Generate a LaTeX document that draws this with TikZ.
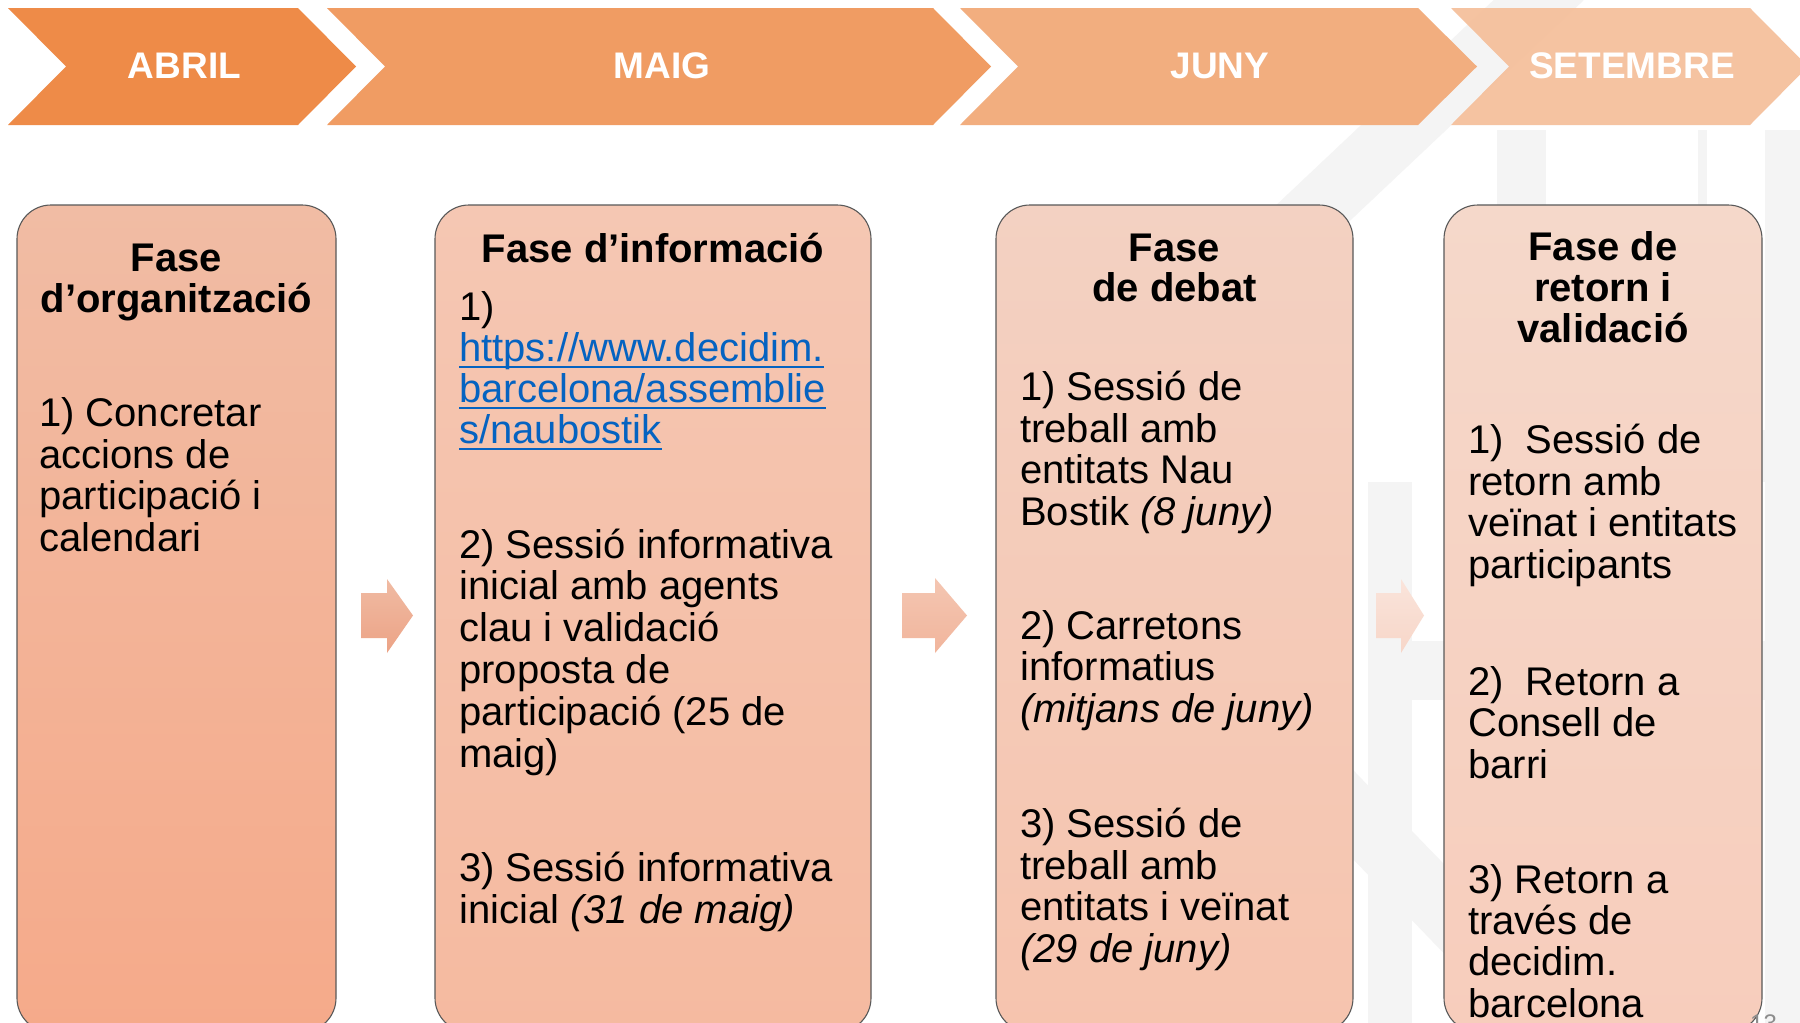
\documentclass[tikz,border=0pt]{standalone}
\usepackage{fontspec}
\setmainfont{Liberation Sans}
\definecolor{cAbril}{RGB}{238,139,72}
\definecolor{cMaig}{RGB}{240,156,99}
\definecolor{cJuny}{RGB}{242,174,127}
\definecolor{cSet}{RGB}{245,190,153}
\definecolor{bOneT}{RGB}{241,188,164}
\definecolor{bOneB}{RGB}{245,170,138}
\definecolor{bTwoT}{RGB}{245,199,179}
\definecolor{bTwoB}{RGB}{245,186,160}
\definecolor{bThrT}{RGB}{243,209,194}
\definecolor{bThrB}{RGB}{246,196,174}
\definecolor{bFouT}{RGB}{245,216,202}
\definecolor{bFouB}{RGB}{247,205,188}
\definecolor{wmgray}{RGB}{244,244,244}
\definecolor{urlblue}{RGB}{5,99,193}
\newcommand\urlline[1]{\setbox0\hbox{#1}\rlap{\rule[-7pt]{\wd0}{2.5pt}}\box0}
\tikzset{
  month/.style={text=white, anchor=base, inner sep=0, font=\bfseries\fontsize{37}{40}\selectfont},
  pbox/.style={draw=black!65, line width=1.1pt, rounded corners=34pt, inner sep=0, outer sep=0},
  ptitle/.style={anchor=base, inner sep=0, align=center, font=\bfseries\fontsize{40}{41}\selectfont},
  pbody/.style={anchor=base west, inner sep=0, align=left, font=\fontsize{40}{41.5}\selectfont},
  wmband/.style={draw=wmgray, line width=62pt, line cap=round, line join=round},
}
\begin{document}
\begin{tikzpicture}[x=1pt,y=-1pt]
\useasboundingbox (0,0) rectangle (1800,1023);
\fill[white] (0,0) rectangle (1800,1023);
% faint watermark
\draw[wmband] (1590,1060) -- (1030,480) -- (1560,-20);
\fill[wmgray] (1497,130) rectangle (1546,470);
\fill[wmgray] (1368,482) rectangle (1412,1023);
\fill[wmgray] (1497,430) rectangle (1800,482);
\fill[wmgray] (1368,641) rectangle (1800,700);
\fill[wmgray] (1698,130) rectangle (1707,430);
\fill[wmgray] (1765,130) rectangle (1800,1023);
% month chevrons
\fill[cAbril] (8,8) -- (298,8) -- (356,66.5) -- (298,125) -- (8,125) -- (66,66.5) -- cycle;
\fill[cMaig] (327,8) -- (933,8) -- (991,66.5) -- (933,125) -- (327,125) -- (385,66.5) -- cycle;
\fill[cJuny] (960,8) -- (1418,8) -- (1477,66.5) -- (1418,125) -- (960,125) -- (1018,66.5) -- cycle;
\fill[cSet, fill opacity=0.92] (1451,8) -- (1750,8) -- (1808,66.5) -- (1750,125) -- (1451,125) -- (1509,66.5) -- cycle;
\node[month] (mAbril) at (184.5,78) {ABRIL};
\node[month] (mMaig) at (662,78) {MAIG};
\node[month] (mJuny) at (1220,78) {JUNY};
\node[month] (mSet) at (1632,78) {SETEMBRE};
% phase boxes
\node[pbox, top color=bOneT, bottom color=bOneB, minimum width=319pt, minimum height=827pt] (box1) at (176.5,618.5) {};
\node[pbox, top color=bTwoT, bottom color=bTwoB, minimum width=436pt, minimum height=827pt] (box2) at (653,618.5) {};
\node[pbox, top color=bThrT, bottom color=bThrB, minimum width=357pt, minimum height=827pt] (box3) at (1174.5,618.5) {};
\node[pbox, top color=bFouT, bottom color=bFouB, minimum width=318pt, minimum height=827pt] (box4) at (1603,618.5) {};
% block arrows between boxes
\path[top color={rgb,255:red,240;green,187;blue,163}, bottom color={rgb,255:red,236;green,163;blue,134}]
  (361,593) -- (387,593) -- (387,579) -- (413,615.5) -- (387,653) -- (387,638) -- (361,638) -- cycle;
\path[top color={rgb,255:red,244;green,198;blue,178}, bottom color={rgb,255:red,241;green,181;blue,156}]
  (902,593) -- (935,593) -- (935,578) -- (967,615.5) -- (935,653) -- (935,638) -- (902,638) -- cycle;
\path[top color={rgb,255:red,250;green,228;blue,219}, bottom color={rgb,255:red,247;green,214;blue,200}]
  (1376,593) -- (1401,593) -- (1401,579) -- (1424,615.5) -- (1401,653) -- (1401,638) -- (1376,638) -- cycle;
% titles (anchor = baseline of last line)
\node[ptitle] (t1) at (176.5,312) {Fase\\d’organització};
\node[ptitle] (t2) at (653,262) {Fase d’informació};
\node[ptitle, font=\bfseries\fontsize{40}{40}\selectfont] (t3) at (1174.5,301) {Fase\\de debat};
\node[ptitle] (t4) at (1603,342) {Fase de\\retorn i\\validació};
% box 1
\node[pbody] (b1a) at (39,551) {1) Concretar\\accions de\\participació i\\calendari};
% box 2
\node[pbody, font=\fontsize{40}{41}\selectfont] (b2a) at (459,443) {1)\\\color{urlblue}\urlline{https://www.decidim.}\\\color{urlblue}\urlline{barcelona/assemblie}\\\color{urlblue}\urlline{s/naubostik}};
\node[pbody, font=\fontsize{40}{41.8}\selectfont] (b2b) at (459,767) {2) Sessió informativa\\inicial amb agents\\clau i validació\\proposta de\\participació (25 de\\maig)};
\node[pbody] (b2c) at (459,923) {3) Sessió informativa\\inicial \textit{(31 de maig)}};
% box 3
\node[pbody] (b3a) at (1020,525) {1) Sessió de\\treball amb\\entitats Nau\\Bostik \textit{(8 juny)}};
\node[pbody] (b3b) at (1020,722) {2) Carretons\\informatius\\\textit{(mitjans de juny)}};
\node[pbody] (b3c) at (1020,962) {3) Sessió de\\treball amb\\entitats i veïnat\\\textit{(29 de juny)}};
% box 4
\node[pbody] (b4a) at (1468,578) {1)\ \ Sessió de\\retorn amb\\veïnat i entitats\\participants};
\node[pbody] (b4b) at (1468,778) {2)\ \ Retorn a\\Consell de\\barri};
\node[pbody, font=\fontsize{40}{41.3}\selectfont] (b4c) at (1468,1017) {3) Retorn a\\través de\\decidim.\\barcelona};
% slide number (cut off)
\node[anchor=north west, inner sep=0, text=black!45, font=\fontsize{24}{26}\selectfont] (pg) at (1750,1015) {13};
\end{tikzpicture}
\end{document}
